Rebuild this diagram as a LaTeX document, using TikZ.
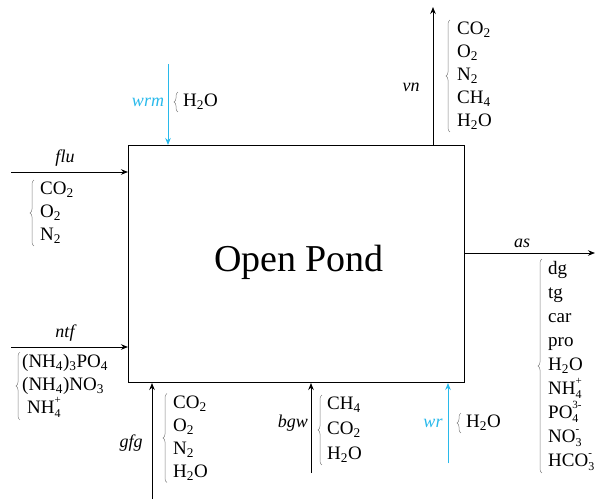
\documentclass[tikz,border=0pt]{standalone}
\usepackage{fontspec}
\setmainfont{Liberation Serif}
\usetikzlibrary{arrows.meta,decorations.pathreplacing}
\definecolor{wblue}{RGB}{40,185,235}
\newcommand\chemss[2]{\makebox[0pt][l]{\raisebox{0.55em}{\fontsize{11}{11}\selectfont #2}}\raisebox{-0.22em}{\fontsize{12}{12}\selectfont #1}}
\begin{document}
\begin{tikzpicture}[x=1pt,y=-1pt,
 flow/.style={line width=0.9pt,-{Stealth[length=7pt,width=5.5pt]}},
 water/.style={flow,draw=wblue,fill=wblue},
 lbl/.style={font=\fontsize{18}{20}\selectfont\rmfamily\itshape,inner sep=0pt},
 wlbl/.style={lbl,text=wblue},
 lst/.style={align=left,inner sep=0pt,font=\fontsize{19}{23}\selectfont\rmfamily,anchor=west},
 brc/.style={draw=gray,line width=0.5pt,decorate,decoration={brace,amplitude=4pt}}
]
\useasboundingbox (0,0) rectangle (595,499);
% main box
\node[draw,line width=1pt,inner sep=0pt,minimum width=336pt,minimum height=237pt,anchor=north west] (pond) at (128,145) {};
\node[font=\fontsize{38}{40}\selectfont\rmfamily] (title) at (299,262) {Open Pond};
% start / end points
\coordinate (flu0) at (11,172);
\coordinate (ntf0) at (11,347);
\coordinate (gfg0) at (152,499);
\coordinate (bgw0) at (311,473);
\coordinate (wr0) at (448,463);
\coordinate (wrm0) at (168,64);
\coordinate (vn1) at (433,7);
\coordinate (as1) at (595,253);
% arrows
\draw[flow] (flu0) -- (flu0 -| pond.west);
\draw[flow] (ntf0) -- (ntf0 -| pond.west);
\draw[flow] (gfg0) -- (gfg0 |- pond.south);
\draw[flow] (bgw0) -- (bgw0 |- pond.south);
\draw[water] (wr0) -- (wr0 |- pond.south);
\draw[water] (wrm0) -- (wrm0 |- pond.north);
\draw[flow] (vn1 |- pond.north) -- (vn1);
\draw[flow] (as1 -| pond.east) -- (as1);
% labels
\node[lbl] (lflu) at (65,158) {flu};
\node[lbl] (lntf) at (65,333) {ntf};
\node[lbl] (lgfg) at (131,443) {gfg};
\node[lbl] (lbgw) at (293,423) {bgw};
\node[wlbl] (lwr) at (433,423) {wr};
\node[lbl] (lvn) at (411,87) {vn};
\node[wlbl] (lwrm) at (148,102) {wrm};
\node[lbl] (las) at (522,243) {as};
% lists
\node[lst] (sflu) at (40,213) {CO\textsubscript{2}\\O\textsubscript{2}\\N\textsubscript{2}};
\node[lst] (sntf) at (22,386) {(NH\textsubscript{4})\textsubscript{3}PO\textsubscript{4}\\(NH\textsubscript{4})NO\textsubscript{3}\\\hspace*{5pt}NH\chemss{4}{+}};
\node[lst] (sgfg) at (173,438) {CO\textsubscript{2}\\O\textsubscript{2}\\N\textsubscript{2}\\H\textsubscript{2}O};
\node[lst,font=\fontsize{19}{25}\selectfont\rmfamily] (sbgw) at (327,430) {CH\textsubscript{4}\\CO\textsubscript{2}\\H\textsubscript{2}O};
\node[lst] (swr) at (466,423) {H\textsubscript{2}O};
\node[lst] (svn) at (457,76) {CO\textsubscript{2}\\O\textsubscript{2}\\N\textsubscript{2}\\CH\textsubscript{4}\\H\textsubscript{2}O};
\node[lst] (swrm) at (183,102) {H\textsubscript{2}O};
\node[lst,font=\fontsize{19}{24}\selectfont\rmfamily] (sas) at (548,366) {dg\\tg\\car\\pro\\H\textsubscript{2}O\\NH\chemss{4}{+}\\PO\chemss{4}{3-}\\NO\chemss{3}{-}\\HCO\chemss{3}{-}};
% braces
\draw[brc] ([xshift=-6pt,yshift=-2pt]sflu.south west) -- ([xshift=-6pt,yshift=2pt]sflu.north west);
\draw[brc] ([xshift=-2pt,yshift=-2pt]sntf.south west) -- ([xshift=-2pt,yshift=2pt]sntf.north west);
\draw[brc] ([xshift=-6pt,yshift=-2pt]sgfg.south west) -- ([xshift=-6pt,yshift=2pt]sgfg.north west);
\draw[brc] ([xshift=-5pt,yshift=-2pt]sbgw.south west) -- ([xshift=-5pt,yshift=2pt]sbgw.north west);
\draw[brc] ([xshift=-5pt,yshift=-2pt]swr.south west) -- ([xshift=-5pt,yshift=2pt]swr.north west);
\draw[brc] ([xshift=-7pt,yshift=-2pt]svn.south west) -- ([xshift=-7pt,yshift=2pt]svn.north west);
\draw[brc] ([xshift=-5pt,yshift=-2pt]swrm.south west) -- ([xshift=-5pt,yshift=2pt]swrm.north west);
\draw[brc] ([xshift=-6pt,yshift=-2pt]sas.south west) -- ([xshift=-6pt,yshift=2pt]sas.north west);
\end{tikzpicture}
\end{document}
